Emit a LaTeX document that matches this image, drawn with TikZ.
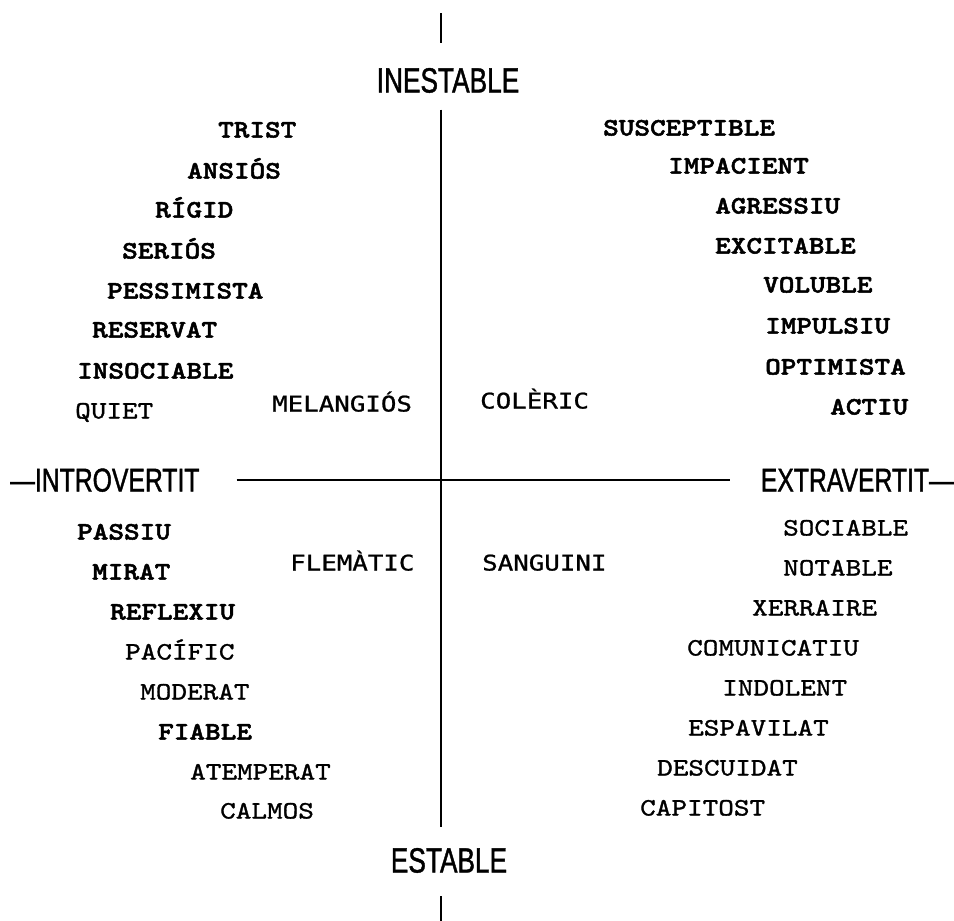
\documentclass[tikz,border=0pt]{standalone}
\usepackage{fontspec}
\newfontfamily\wordfont[FakeStretch=1.19, FakeBold=1.2]{lmmono10-regular.otf}
\newfontfamily\wordbold[FakeStretch=1.19, FakeBold=2]{lmmonolt10-bold.otf}
\newfontfamily\typfont[FakeStretch=1.2, FakeBold=1]{DejaVu Sans Mono}
\newfontfamily\axisfont[FakeStretch=0.75, FakeBold=1.2]{Liberation Sans}
\begin{document}
\begin{tikzpicture}[x=1pt,y=-1pt,
  wb/.style={anchor=west, inner sep=0pt, text height=15pt, text depth=0pt, font={\wordbold\fontsize{25}{25}\selectfont}},
  wr/.style={anchor=west, inner sep=0pt, text height=15pt, text depth=0pt, font={\wordfont\fontsize{25}{25}\selectfont}},
  typ/.style={anchor=west, inner sep=0pt, text height=15pt, text depth=0pt, font={\typfont\fontsize{21.5}{21.5}\selectfont}},
  vlab/.style={inner sep=0pt, text height=25pt, text depth=0pt, font={\axisfont\fontsize{35}{35}\selectfont}},
  hlab/.style={inner sep=0pt, text height=23pt, text depth=0pt, font={\axisfont\fontsize{33}{33}\selectfont}},
  axisline/.style={line width=2pt, black}]
\useasboundingbox (0,0) rectangle (954,921);
\fill[white] (0,0) rectangle (954,921);

% axis labels
\node[vlab] (ines) at (448,80) {INESTABLE};
\node[vlab] (est) at (449,860) {ESTABLE};
\node[hlab, anchor=west] (intro) at (10,480) {—INTROVERTIT};
\node[hlab, anchor=east] (extra) at (954,480) {EXTRAVERTIT—};

\coordinate (o) at (441,480);
\coordinate (vt) at (441,13);
\coordinate (vb) at (441,921);

% axes
\draw[axisline, shorten >=24pt] (vt) -- (ines.north -| o);
\draw[axisline, shorten <=17pt, shorten >=20pt] (ines.south -| o) -- (est.north -| o);
\draw[axisline, shorten >=23pt] (vb) -- (est.south -| o);
\draw[axisline, shorten <=37pt, shorten >=31pt] (intro.east) -- (extra.west);

% temperaments
\node[typ] (mel) at (272,404) {MELANGIÓS};
\node[typ] (col) at (480,401) {COLÈRIC};
\node[typ] (fle) at (290,563) {FLEMÀTIC};
\node[typ] (san) at (482,563) {SANGUINI};

% top-left
\node[wb] (w1) at (218,130) {TRIST};
\node[wb] (w2) at (187,171) {ANSIÓS};
\node[wb] (w3) at (155,210) {RÍGID};
\node[wb] (w4) at (122,251) {SERIÓS};
\node[wb] (w5) at (107,291) {PESSIMISTA};
\node[wb] (w6) at (92,330) {RESERVAT};
\node[wb] (w7) at (77,371) {INSOCIABLE};
\node[wr] (w8) at (75,411) {QUIET};

% top-right
\node[wb] (e1) at (603,128) {SUSCEPTIBLE};
\node[wb] (e2) at (668,166) {IMPACIENT};
\node[wb] (e3) at (715,206) {AGRESSIU};
\node[wb] (e4) at (715,246) {EXCITABLE};
\node[wb] (e5) at (763,285) {VOLUBLE};
\node[wb] (e6) at (765,326) {IMPULSIU};
\node[wb] (e7) at (765,367) {OPTIMISTA};
\node[wb] (e8) at (830,407) {ACTIU};

% bottom-left
\node[wb] (s1) at (77,532) {PASSIU};
\node[wb] (s2) at (92,572) {MIRAT};
\node[wb] (s3) at (110,612) {REFLEXIU};
\node[wr] (s4) at (125,652) {PACÍFIC};
\node[wr] (s5) at (140,692) {MODERAT};
\node[wb] (s6) at (158,732) {FIABLE};
\node[wr] (s7) at (190,772) {ATEMPERAT};
\node[wr] (s8) at (220,811) {CALMOS};

% bottom-right
\node[wr] (n1) at (783,528) {SOCIABLE};
\node[wr] (n2) at (783,568) {NOTABLE};
\node[wr] (n3) at (752,608) {XERRAIRE};
\node[wr] (n4) at (687,648) {COMUNICATIU};
\node[wr] (n5) at (722,688) {INDOLENT};
\node[wr] (n6) at (688,728) {ESPAVILAT};
\node[wr] (n7) at (657,768) {DESCUIDAT};
\node[wr] (n8) at (640,808) {CAPITOST};
\end{tikzpicture}
\end{document}
